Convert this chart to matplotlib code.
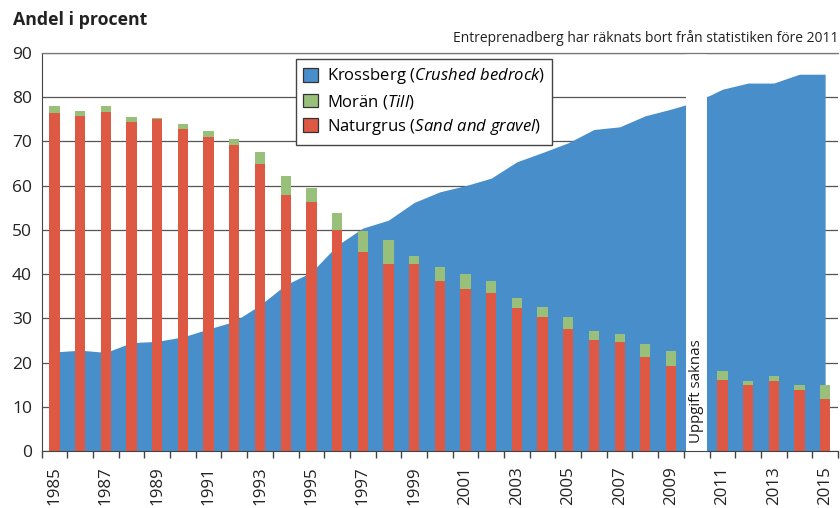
import matplotlib
matplotlib.use("Agg")
import matplotlib.pyplot as plt
import numpy as np

plt.rcParams['font.family'] = ['Open Sans', 'DejaVu Sans']
plt.rcParams['mathtext.fontset'] = 'custom'
plt.rcParams['mathtext.rm'] = 'Open Sans'
plt.rcParams['mathtext.it'] = 'Open Sans:italic'

years = list(range(1985, 2016))
krossberg = [22.4, 22.8, 22.3, 24.5, 24.8, 25.8, 27.6, 29.3, 33.0, 37.6,
             40.4, 46.5, 50.4, 52.2, 56.2, 58.6, 60.0, 61.7, 65.4, 67.5,
             69.7, 72.7, 73.3, 75.8, 77.3, 79.0, 81.8, 83.2, 83.2, 85.2, 85.2]
naturgrus = [76.5, 75.8, 76.7, 74.5, 75.0, 72.7, 70.9, 69.1, 64.8, 57.8,
             56.2, 50.0, 45.1, 42.3, 42.3, 38.4, 36.6, 35.7, 32.3, 30.2,
             27.7, 25.1, 24.7, 21.2, 19.3, np.nan, 16.1, 14.9, 15.8, 13.9, 11.8]
moran = [1.4, 1.1, 1.2, 1.0, 0.3, 1.2, 1.4, 1.5, 2.7, 4.4,
         3.2, 3.9, 4.6, 5.4, 1.8, 3.1, 3.4, 2.7, 2.3, 2.4,
         2.5, 2.0, 1.8, 2.9, 3.2, np.nan, 2.0, 1.0, 1.2, 1.0, 3.1]
missing_year = 2010
label_years = [str(y) if (y - 1985) % 2 == 0 else '' for y in years]

c_blue = '#488ECB'
c_green = '#98C07A'
c_red = '#DD5944'

fig = plt.figure(figsize=(8.4, 5.08), dpi=100)
ax = fig.add_axes([0.0496, 0.1122, 0.9480, 0.7835])

x = np.array(years, dtype=float)
ax.fill_between(x, 0, krossberg, color=c_blue, lw=0, zorder=1,
                label='Krossberg ($\\it{Crushed\\ bedrock}$)')
ax.bar(x, moran, bottom=naturgrus, width=0.4, color=c_green, zorder=2,
       label='Morän ($\\it{Till}$)')
ax.bar(x, naturgrus, width=0.4, color=c_red, zorder=2,
       label='Naturgrus ($\\it{Sand\\ and\\ gravel}$)')

# gap for missing year
ax.axvspan(missing_year - 0.42, missing_year + 0.42, color='white', lw=0, zorder=2.2)
ax.text(missing_year, 1.8, 'Uppgift saknas', rotation=90, ha='center', va='bottom',
        fontsize=10.8, color='#1a1a1a', zorder=3)

ax.set_xlim(1984.5, 2015.5)
ax.set_ylim(0, 90)
ax.set_yticks(range(0, 91, 10))
ax.tick_params(axis='y', length=0, pad=7, labelsize=12.5, labelcolor='#222222')
ax.yaxis.grid(True, color='#555555', lw=0.9)
ax.set_axisbelow(True)

ax.set_xticks(np.arange(1984.5, 2016, 1.0))
ax.set_xticklabels([])
ax.tick_params(axis='x', which='major', length=5, width=1, color='#444444', direction='out')
ax.set_xticks(x, minor=True)
ax.set_xticklabels(label_years, minor=True, rotation=90, fontsize=12.2, color='#222222')
ax.tick_params(axis='x', which='minor', length=0, pad=11)

ax.spines['right'].set_visible(False)
ax.spines['top'].set_color('#777777')
ax.spines['top'].set_linewidth(0.9)
ax.spines['left'].set_color('#444444')
ax.spines['bottom'].set_color('#444444')

handles, labels = ax.get_legend_handles_labels()
leg = fig.legend(handles, labels, loc='upper left', bbox_to_anchor=(0.352, 0.884),
                 fontsize=12, frameon=True, fancybox=False, framealpha=1,
                 edgecolor='#444444', handlelength=0.9, handleheight=0.9,
                 handletextpad=0.5, borderpad=0.45, labelspacing=0.38,
                 borderaxespad=0)
leg.get_frame().set_linewidth(1.0)
for h in leg.legend_handles:
    h.set_edgecolor('#333333')
    h.set_linewidth(0.9)

fig.text(0.015, 0.960, 'Andel i procent', fontsize=12.8, fontweight='bold',
         color='#222222', va='center', ha='left')
fig.text(0.998, 0.925, 'Entreprenadberg har räknats bort från statistiken före 2011',
         fontsize=10.0, color='#222222', va='center', ha='right')

fig.savefig('out.png', dpi=100)
